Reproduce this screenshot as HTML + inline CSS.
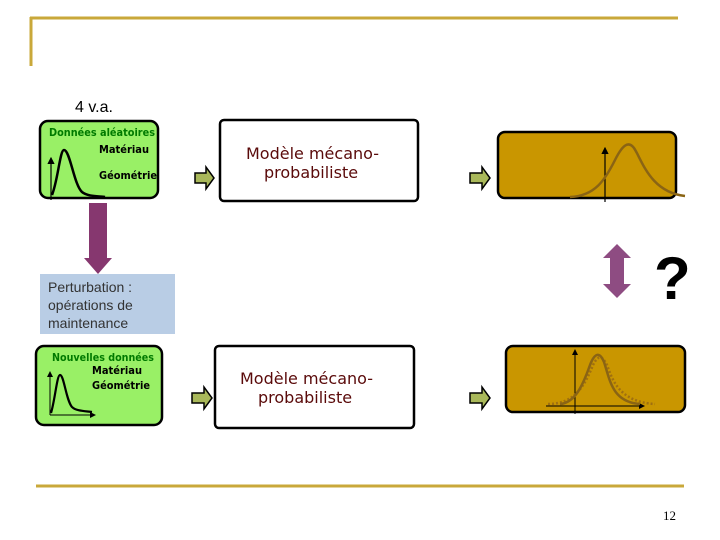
<!DOCTYPE html>
<html><head><meta charset="utf-8"><style>
body{margin:0;background:#fff;}
svg{display:block;}
</style></head><body>
<svg width="720" height="540" viewBox="0 0 720 540" xmlns="http://www.w3.org/2000/svg" font-family="Liberation Sans, DejaVu Sans, sans-serif">
<defs>
<marker id="ah" markerWidth="6" markerHeight="6" refX="5" refY="3" orient="auto"><path d="M0,0 L6,3 L0,6 z" fill="#000"/></marker>
</defs>
<line x1="30" y1="18" x2="678" y2="18" stroke="#c9a83a" stroke-width="3"/>
<line x1="31" y1="17" x2="31" y2="66" stroke="#c9a83a" stroke-width="3"/>
<line x1="36" y1="486" x2="684" y2="486" stroke="#c9a83a" stroke-width="3"/>
<text x="663" y="520" font-family="Liberation Serif, serif" font-size="13">12</text>

<text x="75" y="112" font-size="16">4 v.a.</text>
<rect x="40" y="121" width="118" height="77" rx="8" fill="#99f066" stroke="#000" stroke-width="2.5"/>
<text x="49" y="136" font-size="11" font-weight="bold" fill="#007a00" font-family="DejaVu Sans, sans-serif" textLength="106" lengthAdjust="spacingAndGlyphs">Données aléatoires</text>
<text x="99" y="153" font-size="10.5" font-weight="bold" font-family="DejaVu Sans, sans-serif" textLength="50" lengthAdjust="spacingAndGlyphs">Matériau</text>
<text x="99" y="179" font-size="10.5" font-weight="bold" font-family="DejaVu Sans, sans-serif" textLength="58" lengthAdjust="spacingAndGlyphs">Géométrie</text>
<line x1="51" y1="200" x2="51" y2="158" stroke="#000" stroke-width="1.2" marker-end="url(#ah)"/>
<path d="M52,195 C58,180 60,150 64,150 C70,150 74,185 82,192 C88,197 100,196 105,197" fill="none" stroke="#000" stroke-width="2.5"/>

<g fill="#a9b85a" stroke="#000" stroke-width="1.5">
<path d="M195,173 h11 v-6 l8,11 l-8,11 v-6 h-11 z"/>
<path d="M470,173 h12 v-6 l8,11 l-8,11 v-6 h-12 z"/>
<path d="M192,393 h12 v-6 l8,11 l-8,11 v-6 h-12 z"/>
<path d="M470,393 h12 v-6 l8,11 l-8,11 v-6 h-12 z"/>
</g>

<rect x="220" y="120" width="198" height="81" rx="4" fill="#fff" stroke="#000" stroke-width="2.5"/>
<text x="246" y="159" font-size="16" fill="#5a0a0a" font-family="DejaVu Sans, sans-serif">Modèle mécano-</text>
<text x="264" y="178" font-size="16" fill="#5a0a0a" font-family="DejaVu Sans, sans-serif">probabiliste</text>

<rect x="498" y="132" width="178" height="66" rx="7" fill="#c99600" stroke="#000" stroke-width="2.5"/>
<line x1="605" y1="202" x2="605" y2="148" stroke="#000" stroke-width="1.2" marker-end="url(#ah)"/>
<path d="M570,197 C595,196 605,180 615,160 C622,146 628,140 634,148 C642,160 650,192 685,196" fill="none" stroke="#8a6414" stroke-width="2.5"/>

<path d="M89,203 h18 v55 h5 l-14,16 l-14,-16 h5 z" fill="#86376f"/>
<rect x="40" y="274" width="135" height="60" fill="#b9cde5"/>
<text x="48" y="292" font-size="14" fill="#333">Perturbation :</text>
<text x="48" y="310" font-size="14" fill="#333">opérations de</text>
<text x="48" y="328" font-size="14" fill="#333">maintenance</text>

<path d="M617,244 l14,14 h-7 v26 h7 l-14,14 l-14,-14 h7 v-26 h-7 z" fill="#8e4c82"/>
<text x="654" y="299" font-size="60" font-weight="bold">?</text>

<rect x="36" y="346" width="126" height="79" rx="8" fill="#99f066" stroke="#000" stroke-width="2.5"/>
<text x="52" y="361" font-size="11" font-weight="bold" fill="#007a00" font-family="DejaVu Sans, sans-serif" textLength="102" lengthAdjust="spacingAndGlyphs">Nouvelles données</text>
<text x="92" y="374" font-size="10.5" font-weight="bold" font-family="DejaVu Sans, sans-serif" textLength="50" lengthAdjust="spacingAndGlyphs">Matériau</text>
<text x="92" y="389" font-size="10.5" font-weight="bold" font-family="DejaVu Sans, sans-serif" textLength="58" lengthAdjust="spacingAndGlyphs">Géométrie</text>
<line x1="50" y1="415" x2="50" y2="372" stroke="#000" stroke-width="1" marker-end="url(#ah)"/>
<line x1="50" y1="415" x2="95" y2="415" stroke="#000" stroke-width="1" marker-end="url(#ah)"/>
<path d="M51,413 C55,400 57,375 60,375 C64,375 66,400 72,407 C76,411 84,411 92,412" fill="none" stroke="#000" stroke-width="2.2"/>

<rect x="215" y="346" width="199" height="82" rx="4" fill="#fff" stroke="#000" stroke-width="2.5"/>
<text x="240" y="384" font-size="16" fill="#5a0a0a" font-family="DejaVu Sans, sans-serif">Modèle mécano-</text>
<text x="258" y="403" font-size="16" fill="#5a0a0a" font-family="DejaVu Sans, sans-serif">probabiliste</text>

<rect x="506" y="346" width="179" height="66" rx="7" fill="#c99600" stroke="#000" stroke-width="2.5"/>
<line x1="546" y1="406" x2="644" y2="406" stroke="#000" stroke-width="1" marker-end="url(#ah)"/>
<line x1="575" y1="414" x2="575" y2="350" stroke="#000" stroke-width="1" marker-end="url(#ah)"/>
<path d="M548,404 C575,404 585,385 593,365 C598,355 602,355 607,365 C612,378 618,402 655,404" fill="none" stroke="#a07010" stroke-width="2.5" stroke-dasharray="2,2"/>
<path d="M560,404 C575,403 583,385 590,365 C595,352 600,352 604,362 C610,380 612,402 640,404" fill="none" stroke="#8a6414" stroke-width="2.5"/>
</svg>
</body></html>
